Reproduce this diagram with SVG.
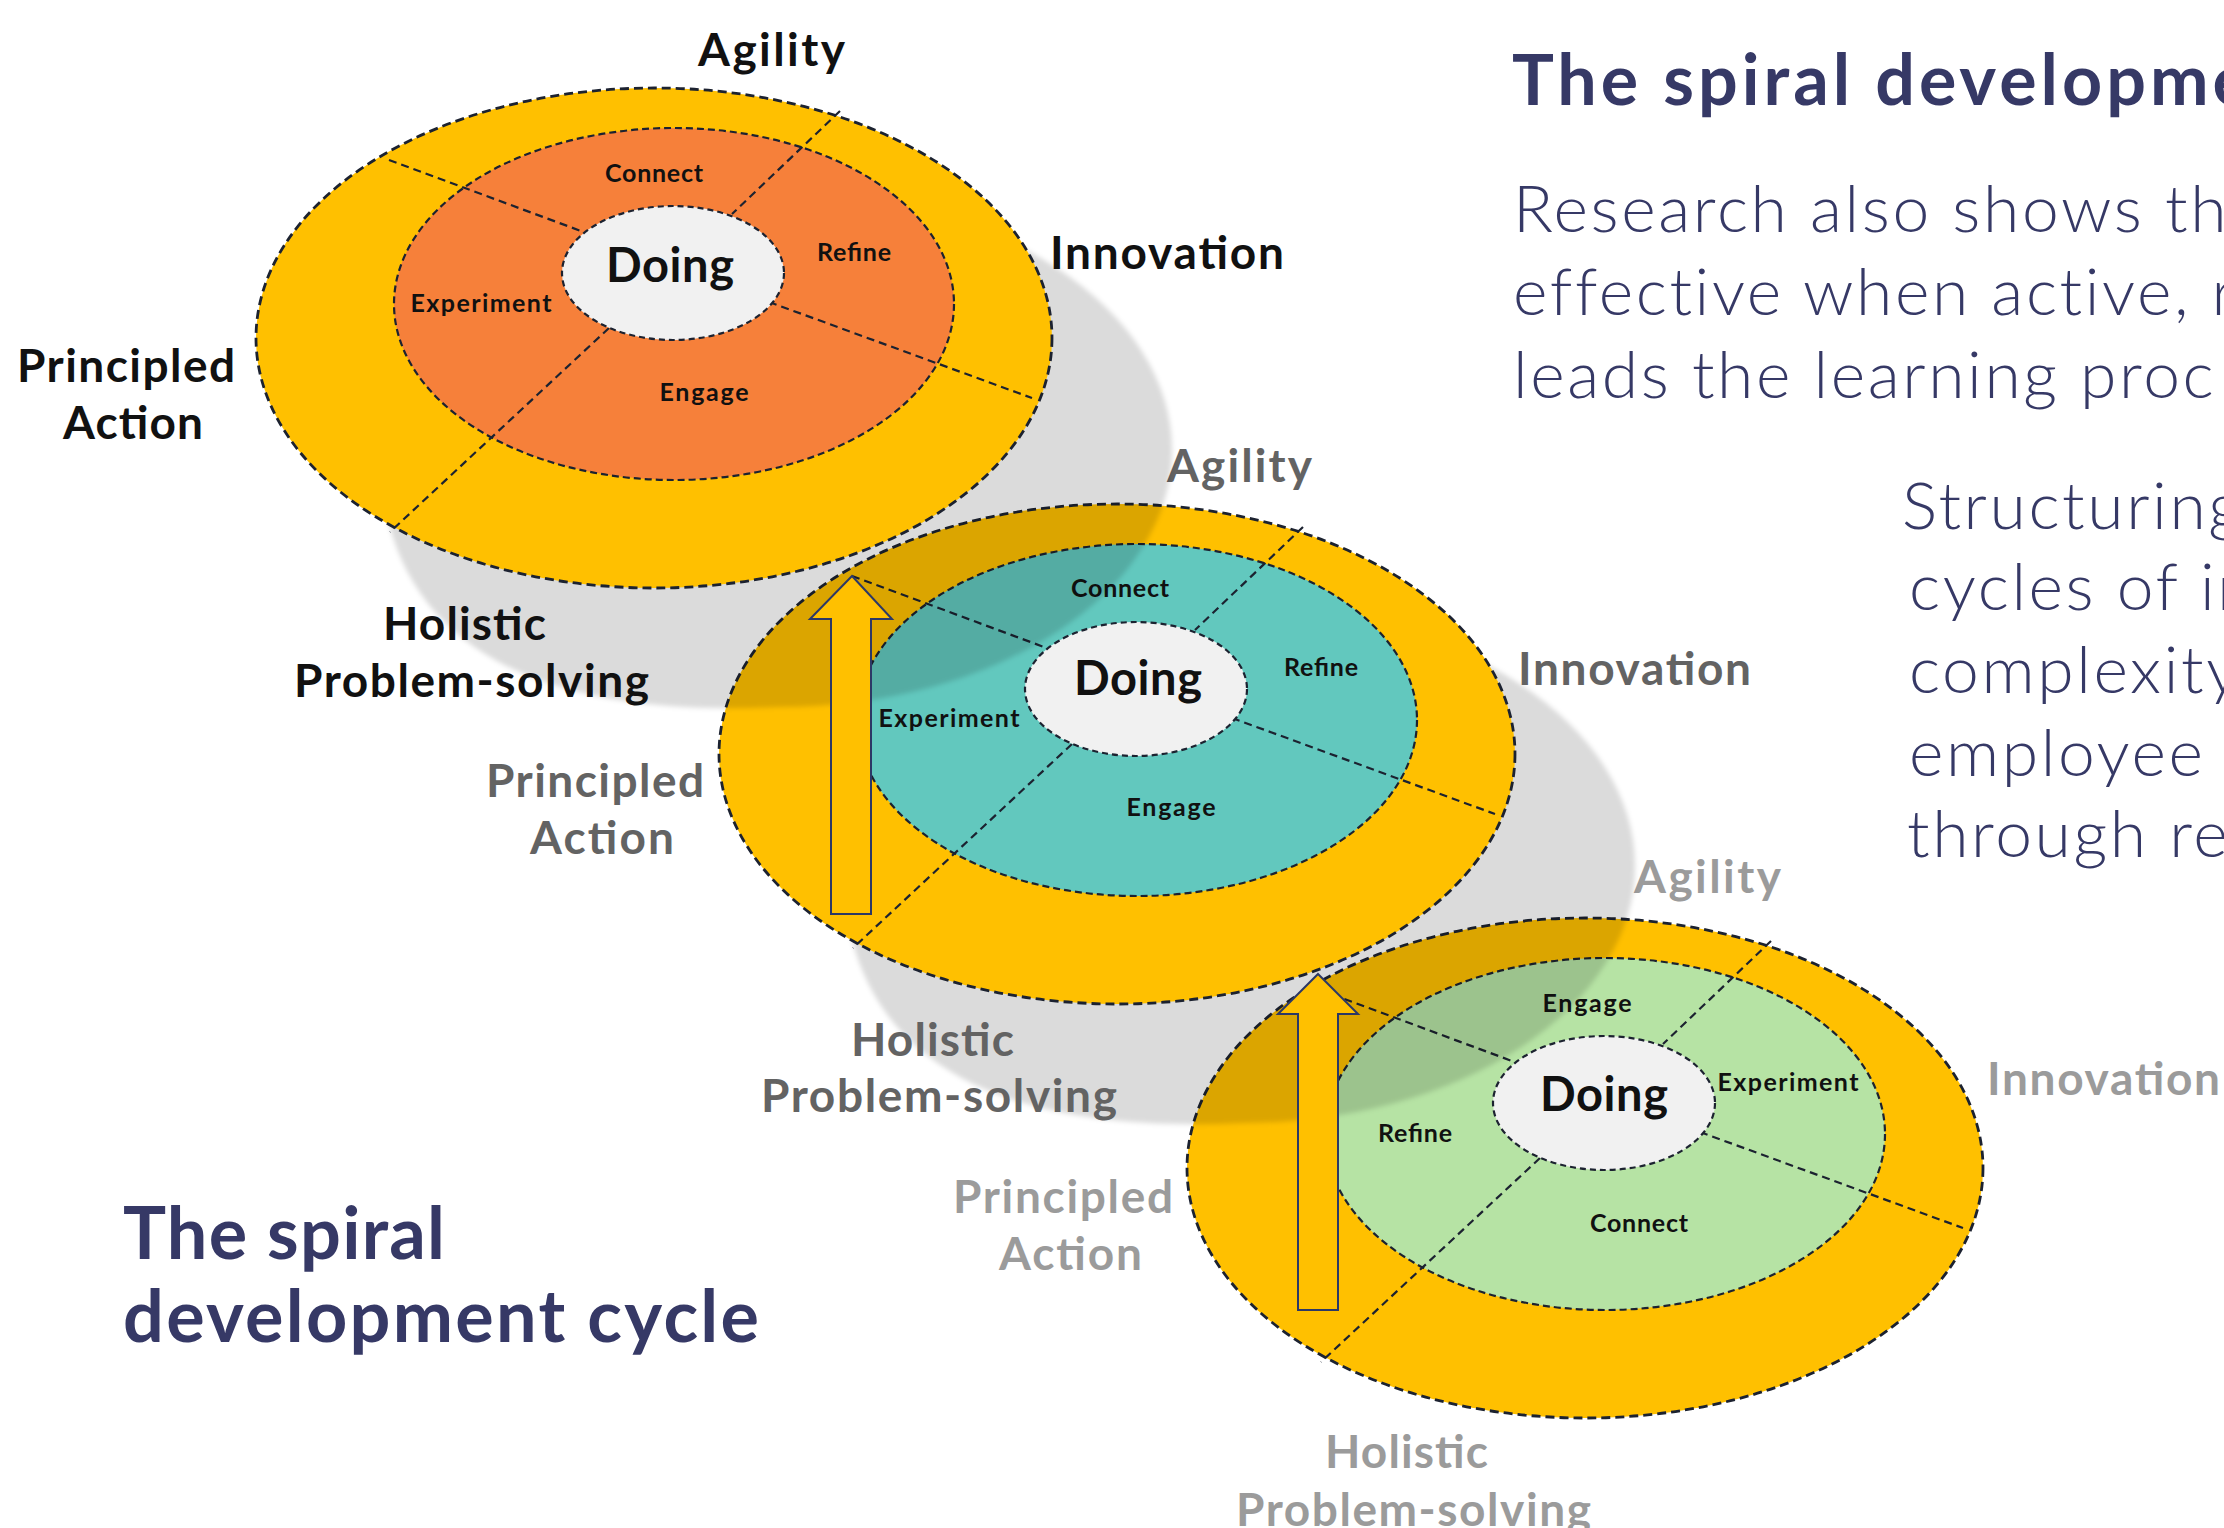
<svg xmlns="http://www.w3.org/2000/svg" xmlns:xlink="http://www.w3.org/1999/xlink" width="2224" height="1528" viewBox="0 0 2224 1528">
  <style>
    .outer{fill:#FFC000;stroke:#1c2230;stroke-width:2.8;stroke-dasharray:9 5}
    .inner{stroke:#1c2230;stroke-width:2.2;stroke-dasharray:7 4}
    .orange{fill:#F6803A}
    .teal{fill:#62C8BE}
    .green{fill:#B6E3A4}
    .core{fill:#F1F1F1;stroke:#1c2230;stroke-width:2.2;stroke-dasharray:6 4}
    .div{fill:none;stroke:#1c2230;stroke-width:2.2;stroke-dasharray:8 5}
    .seg{font-family:Lato,"Open Sans",sans-serif;font-weight:700;font-size:25px;fill:#111;text-anchor:middle}
    .doing{font-size:47px}
    .dim{font-family:Lato,"Open Sans",sans-serif;font-weight:700;font-size:46px}
    .c1{fill:#111}
    .c2{fill:#636363}
    .c3{fill:#9b9b9b}
    .shadow{fill:#000;fill-opacity:.14;filter:url(#soft)}
    .arrow{fill:#FFC000;stroke:#2c3866;stroke-width:2}
    .title{font-family:Lato,"Open Sans",sans-serif;font-weight:700;fill:#363966}
    .body{font-family:Lato,"Open Sans",sans-serif;font-weight:300;font-size:66px;fill:#363966;letter-spacing:2.6px}
  </style>
  <defs>
    <filter id="soft" x="-10%" y="-10%" width="120%" height="120%">
      <feGaussianBlur stdDeviation="2.5"/>
    </filter>
    <!-- shared ring parts, in ring-local coordinates -->
    <ellipse id="ring-outer" cx="0" cy="0" rx="398" ry="250"/>
    <ellipse id="ring-inner" cx="20" cy="-34" rx="280" ry="176"/>
    <ellipse id="ring-core" cx="19" cy="-65" rx="111" ry="67"/>
    <path id="ring-dividers" d="M-265,-178 L-73,-107 M186,-227 L78,-124 M115,-36 L378,60 M-45,-10 L-264,194"/>
    <path id="ring-shadow" d="M126,-145 A392,257 0 0 1 518,112 A392,257 0 0 1 126,369 C-34,377 -224,352 -266,182 C-266,-38 -94,-145 126,-145 Z"/>
  </defs>

  <rect width="2224" height="1528" fill="#ffffff"/>

  <!-- third cycle (back) -->
  <g id="cycle-3" transform="translate(1585,1168)">
    <use href="#ring-outer" class="outer"/>
    <use href="#ring-inner" class="inner green"/>
    <use href="#ring-dividers" class="div"/>
    <use href="#ring-core" class="core"/>
    <text class="seg" x="2" y="-156" textLength="89">Engage</text>
    <text class="seg" x="203" y="-77" textLength="141">Experiment</text>
    <text class="seg" x="-170" y="-26" textLength="74">Refine</text>
    <text class="seg" x="54" y="64" textLength="98">Connect</text>
    <text class="seg doing" x="19" y="-57" textLength="128">Doing</text>
  </g>
  <g id="cycle-3-labels">
    <text class="dim c3" x="1634" y="893" textLength="147">Agility</text>
    <text class="dim c3" x="1987" y="1095" textLength="233">Innovation</text>
    <text class="dim c3" x="953" y="1213" textLength="220">Principled</text>
    <text class="dim c3" x="999" y="1270" textLength="143">Action</text>
    <text class="dim c3" x="1325" y="1468" textLength="163">Holistic</text>
    <text class="dim c3" x="1236" y="1526" textLength="355">Problem-solving</text>
  </g>

  <use href="#ring-shadow" class="shadow" transform="translate(1117,754)"/>

  <!-- second cycle -->
  <g id="cycle-2" transform="translate(1117,754)">
    <use href="#ring-outer" class="outer"/>
    <use href="#ring-inner" class="inner teal"/>
    <use href="#ring-dividers" class="div"/>
    <use href="#ring-core" class="core"/>
    <text class="seg" x="3" y="-157" textLength="98">Connect</text>
    <text class="seg" x="204" y="-78" textLength="74">Refine</text>
    <text class="seg" x="-168" y="-27" textLength="141">Experiment</text>
    <text class="seg" x="54" y="62" textLength="89">Engage</text>
    <text class="seg doing" x="21" y="-59" textLength="128">Doing</text>
  </g>
  <g id="cycle-2-labels">
    <text class="dim c2" x="1167" y="482" textLength="145">Agility</text>
    <text class="dim c2" x="1518" y="685" textLength="233">Innovation</text>
    <text class="dim c2" x="486" y="797" textLength="218">Principled</text>
    <text class="dim c2" x="530" y="854" textLength="144">Action</text>
    <text class="dim c2" x="851" y="1056" textLength="163">Holistic</text>
    <text class="dim c2" x="761" y="1112" textLength="356">Problem-solving</text>
  </g>

  <use href="#ring-shadow" class="shadow" transform="translate(654,338)"/>

  <!-- first cycle (front) -->
  <g id="cycle-1" transform="translate(654,338)">
    <use href="#ring-outer" class="outer"/>
    <use href="#ring-inner" class="inner orange"/>
    <use href="#ring-dividers" class="div"/>
    <use href="#ring-core" class="core"/>
    <text class="seg" x="0" y="-156" textLength="98">Connect</text>
    <text class="seg" x="200" y="-77" textLength="74">Refine</text>
    <text class="seg" x="-173" y="-26" textLength="141">Experiment</text>
    <text class="seg" x="50" y="63" textLength="89">Engage</text>
    <text class="seg doing" x="16" y="-56" textLength="128">Doing</text>
  </g>
  <g id="cycle-1-labels">
    <text class="dim c1" x="698" y="66" textLength="147">Agility</text>
    <text class="dim c1" x="1050" y="269" textLength="234">Innovation</text>
    <text class="dim c1" x="17" y="382" textLength="218">Principled</text>
    <text class="dim c1" x="63" y="439" textLength="140">Action</text>
    <text class="dim c1" x="383" y="640" textLength="163">Holistic</text>
    <text class="dim c1" x="294" y="697" textLength="355">Problem-solving</text>
  </g>

  <!-- upward arrows linking one cycle to the next -->
  <g id="connectors">
    <path class="arrow" d="M852,576 L892,619 L871,619 L871,914 L831,914 L831,619 L810,619 Z"/>
    <path class="arrow" d="M1318,974 L1358,1014 L1338,1014 L1338,1310 L1298,1310 L1298,1014 L1278,1014 Z"/>
  </g>

  <!-- slide text -->
  <g id="heading-left">
    <text class="title" x="123" y="1259" font-size="72" textLength="322">The spiral</text>
    <text class="title" x="123" y="1342" font-size="72" textLength="636">development cycle</text>
  </g>
  <g id="heading-right">
    <text class="title" x="1512" y="105" font-size="70" textLength="738">The spiral developme</text>
  </g>
  <g id="body-text">
    <text class="body" x="1513" y="232">Research also shows th</text>
    <text class="body" x="1513" y="315">effective when active, r</text>
    <text class="body" x="1513" y="398">leads the learning proc</text>
    <text class="body" x="1902" y="529">Structuring</text>
    <text class="body" x="1909" y="610">cycles of in</text>
    <text class="body" x="1909" y="693">complexity</text>
    <text class="body" x="1909" y="776">employee</text>
    <text class="body" x="1907" y="857">through re</text>
  </g>
</svg>
